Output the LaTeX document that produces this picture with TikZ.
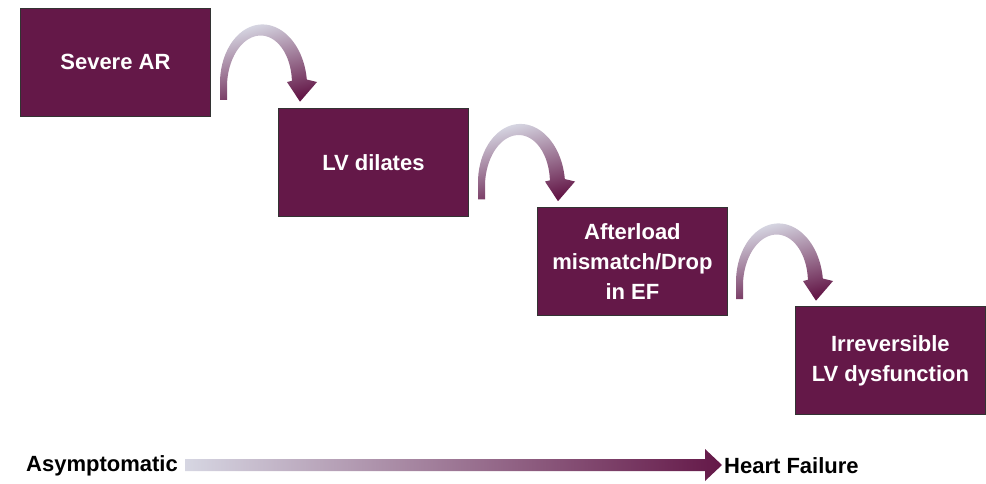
\documentclass[tikz,border=0pt]{standalone}
\usepackage{fontspec}
\setmainfont{Liberation Sans}
\definecolor{maroon}{RGB}{100,24,72}
\definecolor{pale}{RGB}{214,214,226}
\begin{document}
\begin{tikzpicture}[x=1pt,y=-1pt,
  stepbox/.style={draw=black!80, line width=0.8pt, fill=maroon, text=white,
    font=\bfseries\fontsize{22}{30}\selectfont, align=center,
    minimum width=190pt, minimum height=108pt, inner sep=0pt, anchor=north west},
  endlabel/.style={font=\bfseries\fontsize{22}{26}\selectfont, inner sep=0pt},
  turn/.pic={
    \shade[top color=pale, bottom color=maroon, shading angle=15]
      (-34.5,15) -- (-41.5,15) -- (-41.5,0)
      -- plot[domain=180:355,samples=50] ({(41.5+4*(\x-180)/175)*cos(\x)},{(58.5+4*(\x-180)/175)*sin(\x)})
      -- (55.5,-3) -- (38.5,16.7) -- (25.5,-3)
      -- plot[domain=355:180,samples=50] ({(34.5-4*(\x-180)/175)*cos(\x)},{(51.5-4*(\x-180)/175)*sin(\x)})
      -- cycle;
  }]
\useasboundingbox (0,0) rectangle (986,484);

\node[stepbox] (b1) at (20,8) {Severe AR};
\node[stepbox] (b2) at (278,108) {LV dilates};
\node[stepbox] (b3) at (537,207) {Afterload\\mismatch/Drop\\in EF};
\node[stepbox] (b4) at (795,306) {Irreversible\\LV dysfunction};

\pic at (261.5,85) {turn};
\pic at (519.5,184.5) {turn};
\pic at (777.5,284) {turn};

\node[endlabel, anchor=east] (asym) at (178,466) {Asymptomatic};
\node[endlabel, anchor=west] (hf) at (724,466) {Heart Failure};
\shade[left color=pale, right color=maroon]
  (185,459) -- (705,459) -- (705,449) -- (722,465) -- (705,481) -- (705,471) -- (185,471) -- cycle;
\end{tikzpicture}
\end{document}
